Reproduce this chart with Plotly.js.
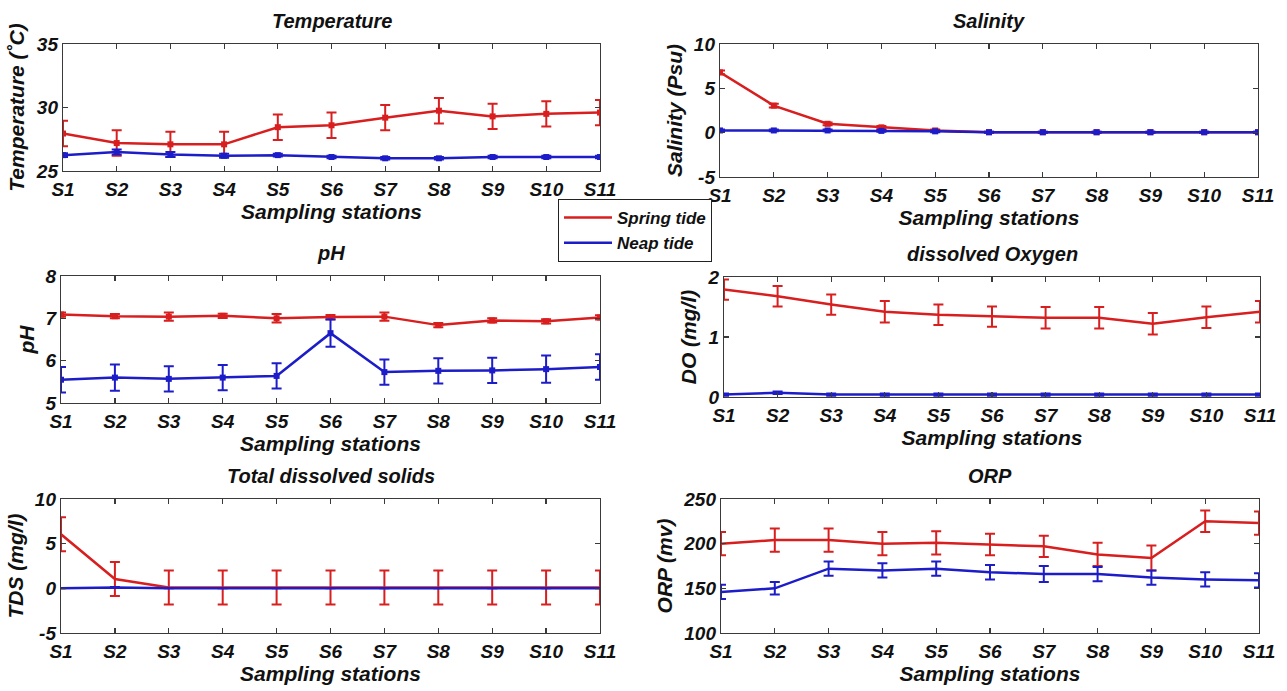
<!DOCTYPE html>
<html>
<head>
<meta charset="utf-8">
<script src="https://cdn.plot.ly/plotly-3.0.1.min.js"></script>
<style>html,body{margin:0;padding:0;background:#fff;}#chart{width:1287px;height:691px;}</style>
</head>
<body>
<div id="chart"></div>
<script>
const stations = ["S1","S2","S3","S4","S5","S6","S7","S8","S9","S10","S11"];

const tempSpring = [27.95, 27.2, 27.1, 27.1, 28.45, 28.6, 29.2, 29.75, 29.3, 29.5, 29.6];
const tempSpringErr = [1.0, 1.0, 1.0, 1.0, 1.0, 1.0, 1.0, 1.0, 1.0, 1.0, 1.0];
const tempNeap = [26.25, 26.5, 26.3, 26.2, 26.25, 26.1, 26.0, 26.0, 26.1, 26.1, 26.1];
const tempNeapErr = [0.15, 0.2, 0.2, 0.15, 0.1, 0.1, 0.1, 0.1, 0.1, 0.1, 0.1];

const salSpring = [6.8, 3.05, 1.0, 0.6, 0.25, 0.05, 0.05, 0.05, 0.05, 0.05, 0.05];
const salSpringErr = [0.2, 0.2, 0.15, 0.15, 0.1, 0.05, 0.05, 0.05, 0.05, 0.05, 0.05];
const salNeap = [0.25, 0.25, 0.25, 0.2, 0.15, 0.05, 0.05, 0.05, 0.05, 0.05, 0.05];
const salNeapErr = [0.1, 0.1, 0.1, 0.1, 0.1, 0.05, 0.05, 0.05, 0.05, 0.05, 0.05];

const phSpring = [7.09, 7.05, 7.04, 7.06, 7.0, 7.03, 7.04, 6.84, 6.95, 6.93, 7.02];
const phSpringErr = [0.05, 0.05, 0.1, 0.05, 0.1, 0.05, 0.1, 0.05, 0.05, 0.05, 0.05];
const phNeap = [5.55, 5.6, 5.57, 5.6, 5.64, 6.65, 5.73, 5.76, 5.77, 5.8, 5.85];
const phNeapErr = [0.3, 0.31, 0.3, 0.3, 0.3, 0.32, 0.3, 0.3, 0.3, 0.32, 0.3];

const doSpring = [1.79, 1.68, 1.54, 1.42, 1.37, 1.34, 1.32, 1.32, 1.22, 1.33, 1.42];
const doSpringErr = [0.17, 0.17, 0.17, 0.18, 0.17, 0.17, 0.18, 0.18, 0.18, 0.18, 0.18];
const doNeap = [0.04, 0.07, 0.04, 0.04, 0.04, 0.04, 0.04, 0.04, 0.04, 0.04, 0.04];
const doNeapErr = [0.02, 0.02, 0.02, 0.02, 0.02, 0.02, 0.02, 0.02, 0.02, 0.02, 0.02];

const tdsSpring = [6.05, 1.05, 0.1, 0.1, 0.1, 0.1, 0.1, 0.1, 0.1, 0.1, 0.1];
const tdsSpringErr = [1.9, 1.9, 1.9, 1.9, 1.9, 1.9, 1.9, 1.9, 1.9, 1.9, 1.9];
const tdsNeap = [0, 0.1, 0, 0, 0, 0, 0, 0, 0, 0, 0];
const tdsNeapErr = [0, 0.05, 0, 0, 0, 0, 0, 0, 0, 0, 0];

const orpSpring = [200, 204, 204, 200, 201, 199, 197, 188, 184, 225, 223];
const orpSpringErr = [13, 13, 13, 13, 13, 12, 12, 13, 14, 12, 13];
const orpNeap = [146, 150, 172, 170, 172, 168, 166, 166, 162, 160, 159];
const orpNeapErr = [8, 7, 8, 8, 8, 8, 9, 8, 8, 8, 8];

const tempTicks = [25, 30, 35];
const salTicks = [-5, 0, 5, 10];
const phTicks = [5, 6, 7, 8];
const doTicks = [0, 1, 2];
const tdsTicks = [-5, 0, 5, 10];
const orpTicks = [100, 150, 200, 250];

const panelTitles = ["Temperature", "Salinity", "pH", "dissolved Oxygen", "Total dissolved solids", "ORP"];
const yTitles = ["Temperature (˚C)", "Salinity (Psu)", "pH", "DO (mg/l)", "TDS (mg/l)", "ORP (mv)"];
const xTitle = "Sampling stations";
const seriesNames = ["Spring tide", "Neap tide"];

const W = 1287, H = 691;
const RED = "#d81e1e", BLUE = "#1c1cc8";
const FONT = "Liberation Sans, Arial, sans-serif";
const LEGEND_PANEL = 4;

const panels = [
  {spring: tempSpring, se: tempSpringErr, neap: tempNeap, ne: tempNeapErr, ticks: tempTicks, box: [63, 600, 44, 171], mk: 6},
  {spring: salSpring, se: salSpringErr, neap: salNeap, ne: salNeapErr, ticks: salTicks, box: [720, 1258, 44, 177], mk: 6},
  {spring: phSpring, se: phSpringErr, neap: phNeap, ne: phNeapErr, ticks: phTicks, box: [61, 600, 276, 403], mk: 6},
  {spring: doSpring, se: doSpringErr, neap: doNeap, ne: doNeapErr, ticks: doTicks, box: [724, 1260, 277, 397], mk: 0},
  {spring: tdsSpring, se: tdsSpringErr, neap: tdsNeap, ne: tdsNeapErr, ticks: tdsTicks, box: [61, 600, 499, 633], mk: 0},
  {spring: orpSpring, se: orpSpringErr, neap: orpNeap, ne: orpNeapErr, ticks: orpTicks, box: [721, 1259, 499, 633], mk: 0}
];

const traces = [];
const layout = {
  width: W, height: H,
  margin: {l: 0, r: 0, t: 0, b: 0},
  paper_bgcolor: "#fff", plot_bgcolor: "#fff",
  showlegend: true,
  legend: {
    x: 558 / W, y: 1 - 199 / H, xanchor: "left", yanchor: "top",
    bgcolor: "#fff", bordercolor: "#222", borderwidth: 1,
    font: {family: FONT, size: 17, weight: "bold", style: "italic", color: "#111"},
    tracegroupgap: 0, itemwidth: 48
  },
  annotations: []
};

const textFont = (size) => ({family: FONT, size: size, weight: "bold", style: "italic", color: "#111"});

panels.forEach((p, i) => {
  const n = i + 1;
  const xa = "x" + (n === 1 ? "" : n), ya = "y" + (n === 1 ? "" : n);
  const xk = "xaxis" + (n === 1 ? "" : n), yk = "yaxis" + (n === 1 ? "" : n);
  const [l, r, t, b] = p.box;
  const axisCommon = {
    showline: true, mirror: "ticks", linecolor: "#3a3a3a", linewidth: 1.2,
    ticks: "inside", ticklen: 5, tickcolor: "#3a3a3a", tickwidth: 1.2,
    showgrid: false, zeroline: false, automargin: false, fixedrange: true,
    tickfont: textFont(19)
  };
  layout[xk] = Object.assign({}, axisCommon, {
    domain: [l / W, r / W], anchor: ya, type: "category",
    categoryorder: "array", categoryarray: stations, range: [0, stations.length - 1],
    ticklabelstandoff: 1,
    title: {text: xTitle, standoff: 5, font: textFont(21)}
  });
  layout[yk] = Object.assign({}, axisCommon, {
    domain: [1 - b / H, 1 - t / H], anchor: xa,
    range: [p.ticks[0], p.ticks[p.ticks.length - 1]],
    tickmode: "array", tickvals: p.ticks, ticktext: p.ticks.map(String),
    title: {text: yTitles[i], standoff: 5, font: textFont(21)}
  });
  layout.annotations.push({
    text: panelTitles[i], xref: "paper", yref: "paper",
    x: ((l + r) / 2) / W, y: 1 - (t - 23) / H, xanchor: "center", yanchor: "middle",
    showarrow: false, font: textFont(20)
  });
  const mode = p.mk > 0 ? "lines+markers" : "lines";
  traces.push({
    x: stations, y: p.spring, xaxis: xa, yaxis: ya, type: "scatter", mode: mode,
    name: seriesNames[0], legendgroup: "spring", showlegend: i === LEGEND_PANEL,
    line: {color: RED, width: 2.5}, marker: {color: RED, size: p.mk, symbol: "square"},
    error_y: {type: "data", array: p.se, visible: true, color: RED, thickness: 2, width: 5},
    cliponaxis: true
  });
  traces.push({
    x: stations, y: p.neap, xaxis: xa, yaxis: ya, type: "scatter", mode: mode,
    name: seriesNames[1], legendgroup: "neap", showlegend: i === LEGEND_PANEL,
    line: {color: BLUE, width: 2.5}, marker: {color: BLUE, size: p.mk, symbol: "square"},
    error_y: {type: "data", array: p.ne, visible: true, color: BLUE, thickness: 2, width: 5},
    cliponaxis: true
  });
});

Plotly.newPlot("chart", traces, layout, {displayModeBar: false, staticPlot: true});
</script>
</body>
</html>
